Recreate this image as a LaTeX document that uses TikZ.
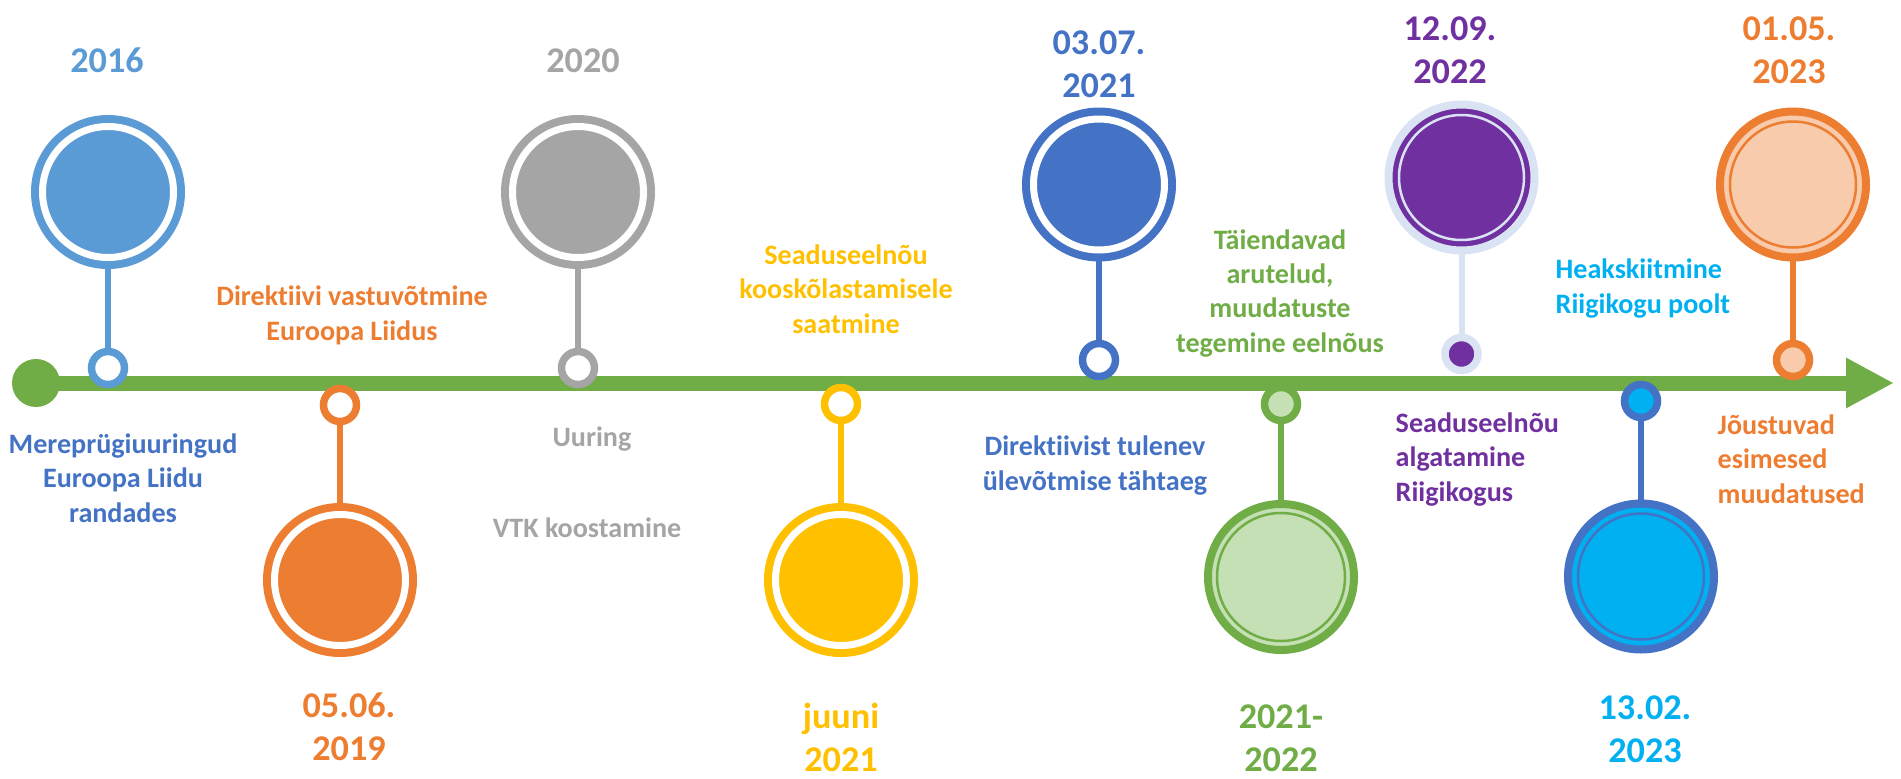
\documentclass[tikz,border=0pt]{standalone}
\usepackage{fontspec}
\setmainfont{Carlito}[Ligatures=NoCommon]
\usepackage{xcolor}
\usepackage{tikz}
\usetikzlibrary{arrows.meta}
\definecolor{skyblue}{HTML}{5B9BD5}
\definecolor{royalblue}{HTML}{4472C4}
\definecolor{tlorange}{HTML}{ED7D31}
\definecolor{paleorange}{HTML}{F8CBAD}
\definecolor{tlgray}{HTML}{A5A5A5}
\definecolor{tlyellow}{HTML}{FFC000}
\definecolor{tlgreen}{HTML}{70AD47}
\definecolor{palegreen}{HTML}{C5E0B4}
\definecolor{tlpurple}{HTML}{7030A0}
\definecolor{halo}{HTML}{DAE3F3}
\definecolor{tlcyan}{HTML}{00B0F0}
\newcommand{\datefont}{\fontsize{10.3pt}{12.1pt}\selectfont\bfseries}
\newcommand{\eventfont}{\fontsize{8pt}{9.7pt}\selectfont\bfseries}

\begin{document}
\begin{tikzpicture}[
  bigring/.style={circle, inner sep=0pt, outer sep=0.1cm, minimum size=1.31cm, line width=0.08cm, draw=#1, fill=#1, double=white, double distance=0.07cm},
  bigdisc/.style 2 args={circle, inner sep=0pt, outer sep=0pt, minimum size=1.46cm, line width=0.08cm, draw=#1, fill=#2},
  knob/.style 2 args={circle, inner sep=0pt, outer sep=0pt, minimum size=0.33cm, line width=0.075cm, draw=#1, fill=#2},
  stem/.style={draw=#1, line width=0.06cm},
  innerring/.style={draw=#1, line width=0.025cm},
  datelabel/.style={font=\datefont, text=#1, align=center, anchor=base, inner sep=0pt},
  eventlabel/.style={font=\eventfont, text=#1, align=center, anchor=base, inner sep=0pt},
  eventlabelleft/.style={font=\eventfont, text=#1, align=left, anchor=base west, inner sep=0pt},
]
\useasboundingbox (0,0) rectangle (19.01,-7.79);
% time axis
\node[circle, fill=tlgreen, inner sep=0pt, minimum size=0.48cm] (start) at (0.36,-3.83) {};
\coordinate (tip) at (18.94,-3.83);
\draw[tlgreen, line width=0.15cm, -{Triangle[length=0.48cm, width=0.47cm]}] (start.center) -- (tip);

% 2016 (text nodes sit on the baseline of their last line)
\node[bigring=skyblue] (big2016) at (1.08,-1.92) {};
\node[knob={skyblue}{white}] (knob2016) at (1.08,-3.68) {};
\draw[stem=skyblue] (big2016) -- (knob2016);
\node[datelabel=skyblue] (date2016) at (1.07,-0.72) {2016};
\node[eventlabel=royalblue] (text2016) at (1.23,-5.22) {Mereprügiuuringud\\Euroopa Liidu\\randades};

% 05.06.2019
\node[knob={tlorange}{white}] (knob2019) at (3.40,-4.05) {};
\node[bigring=tlorange] (big2019) at (3.40,-5.80) {};
\draw[stem=tlorange] (knob2019) -- (big2019);
\node[datelabel=tlorange] (date2019) at (3.49,-7.60) {05.06.\\2019};
\node[eventlabel=tlorange] (text2019) at (3.52,-3.40) {Direktiivi vastuvõtmine\\Euroopa Liidus};

% 2020
\node[bigring=tlgray] (big2020) at (5.78,-1.92) {};
\node[knob={tlgray}{white}] (knob2020) at (5.78,-3.68) {};
\draw[stem=tlgray] (big2020) -- (knob2020);
\node[datelabel=tlgray] (date2020) at (5.83,-0.72) {2020};
\node[eventlabel=tlgray] (study) at (5.92,-4.46) {Uuring};
\node[eventlabel=tlgray] (vtk) at (5.87,-5.37) {VTK koostamine};

% juuni 2021
\node[knob={tlyellow}{white}] (knob2021a) at (8.41,-4.04) {};
\node[bigring=tlyellow] (big2021a) at (8.41,-5.80) {};
\draw[stem=tlyellow] (knob2021a) -- (big2021a);
\node[datelabel=tlyellow] (date2021a) at (8.41,-7.71) {juuni\\2021};
\node[eventlabel=tlyellow] (text2021a) at (8.46,-3.33) {Seaduseelnõu\\kooskõlastamisele\\saatmine};

% 03.07.2021
\node[bigring=royalblue] (big2021b) at (10.99,-1.845) {};
\node[knob={royalblue}{white}] (knob2021b) at (10.99,-3.60) {};
\draw[stem=royalblue] (big2021b) -- (knob2021b);
\node[datelabel=royalblue] (date2021b) at (10.99,-0.97) {03.07.\\2021};
\node[eventlabel=royalblue] (text2021b) at (10.95,-4.90) {Direktiivist tulenev\\ülevõtmise tähtaeg};

% 2021-2022
\node[knob={tlgreen}{palegreen}] (knob2122) at (12.81,-4.04) {};
\node[bigdisc={tlgreen}{palegreen}] (big2122) at (12.81,-5.77) {};
\draw[innerring=tlgreen] (big2122.center) circle (0.64);
\draw[stem=tlgreen] (knob2122) -- (big2122);
\node[datelabel=tlgreen] (date2122) at (12.81,-7.71) {2021-\\2022};
\node[eventlabel=tlgreen] (text2122) at (12.80,-3.52) {Täiendavad\\arutelud,\\muudatuste\\tegemine eelnõus};

% 12.09.2022
\node[bigdisc={halo}{tlpurple}] (big2022) at (14.615,-1.775) {};
\draw[innerring=halo] (big2022.center) circle (0.625);
\node[knob={halo}{tlpurple}] (knob2022) at (14.615,-3.54) {};
\draw[stem=halo] (big2022) -- (knob2022);
\node[datelabel=tlpurple] (date2022) at (14.50,-0.83) {12.09.\\2022};
\node[eventlabelleft=tlpurple] (text2022) at (13.95,-5.01) {Seaduseelnõu\\algatamine\\Riigikogus};

% 13.02.2023
\node[knob={royalblue}{tlcyan}] (knob2023a) at (16.41,-4.01) {};
\node[bigdisc={royalblue}{tlcyan}] (big2023a) at (16.41,-5.765) {};
\draw[innerring=royalblue] (big2023a.center) circle (0.63);
\draw[stem=royalblue] (knob2023a) -- (big2023a);
\node[datelabel=tlcyan] (date2023a) at (16.45,-7.62) {13.02.\\2023};
\node[eventlabelleft=tlcyan] (text2023a) at (15.55,-3.13) {Heakskiitmine\\Riigikogu poolt};

% 01.05.2023
\node[bigdisc={tlorange}{paleorange}] (big2023b) at (17.93,-1.845) {};
\draw[innerring=tlorange] (big2023b.center) circle (0.63);
\node[knob={tlorange}{paleorange}] (knob2023b) at (17.93,-3.60) {};
\draw[stem=tlorange] (big2023b) -- (knob2023b);
\node[datelabel=tlorange] (date2023b) at (17.89,-0.83) {01.05.\\2023};
\node[eventlabelleft=tlorange] (text2023b) at (17.17,-5.03) {Jõustuvad\\esimesed\\muudatused};
\end{tikzpicture}
\end{document}
